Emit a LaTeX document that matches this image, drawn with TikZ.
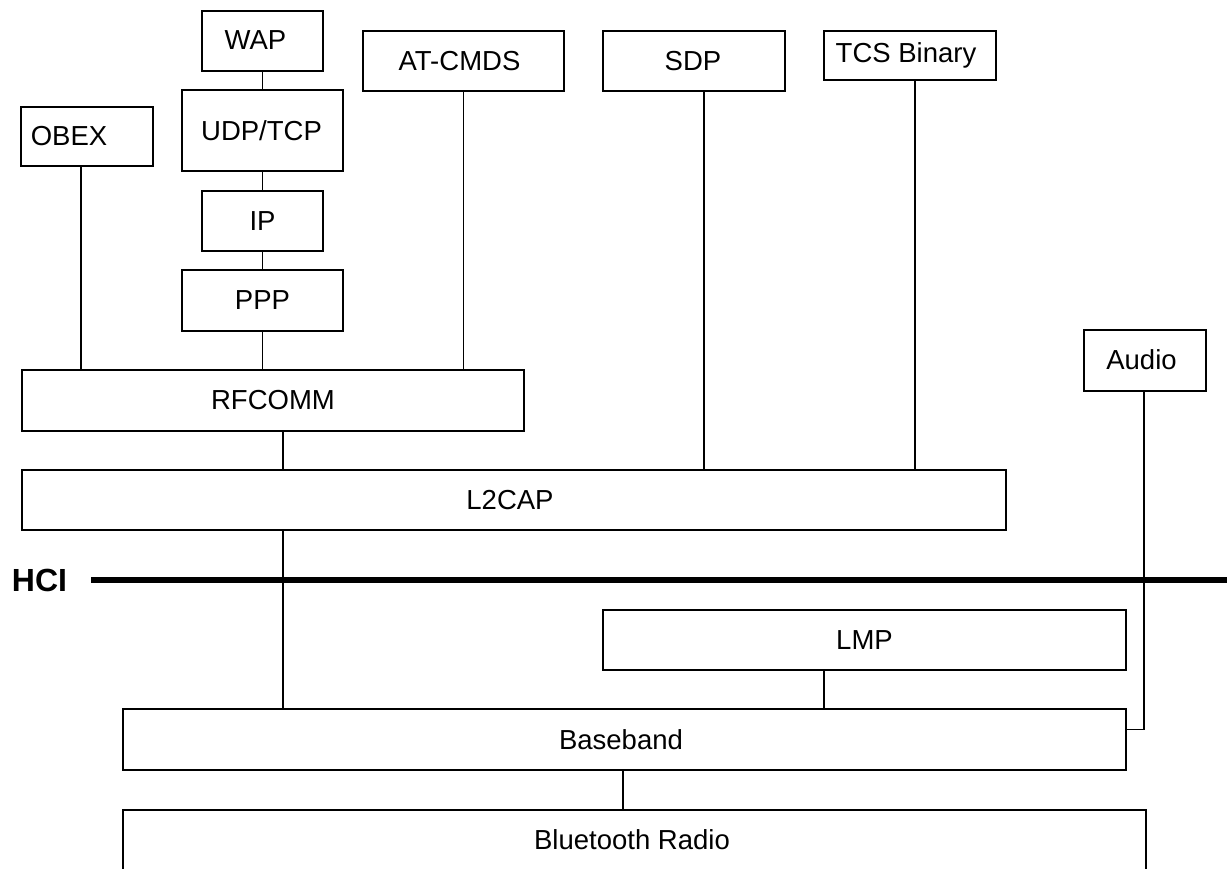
\documentclass[tikz,border=0pt]{standalone}
\usepackage{fontspec}
\setmainfont{Liberation Sans}
\begin{document}
\begin{tikzpicture}[x=1pt,y=-1pt,
  box/.style={draw,line width=1.4pt,inner sep=0pt,
    font=\fontsize{27.5}{32}\selectfont},
  link/.style={line width=1.3pt},
  hciline/.style={line width=6.5pt}]
\useasboundingbox (0,0) rectangle (1227,869);
\clip (0,0) rectangle (1227,869);
% upper stack
\node[box,minimum width=121pt,minimum height=60pt] (wap) at (262.5,41) {\raisebox{1.5pt}{WAP}\kern14pt};
\node[box,minimum width=161pt,minimum height=81pt] (udp) at (262.5,130.5) {UDP/TCP\kern2pt};
\node[box,minimum width=121pt,minimum height=60pt] (ip) at (262.5,221) {IP};
\node[box,minimum width=161pt,minimum height=61pt] (ppp) at (262.5,300.5) {PPP};
\node[box,minimum width=132pt,minimum height=59pt] (obex) at (87,136.5) {OBEX\kern36pt};
\node[box,minimum width=201pt,minimum height=60pt] (at) at (463.5,61) {AT-CMDS\kern8pt};
\node[box,minimum width=182pt,minimum height=60pt] (sdp) at (694,61) {SDP\kern2pt};
\node[box,minimum width=172pt,minimum height=49pt] (tcs) at (910,55.5) {TCS Binary\kern8pt};
\node[box,minimum width=122pt,minimum height=61pt] (audio) at (1145,360.5) {\raisebox{1.5pt}{Audio}\kern7pt};
\node[box,minimum width=502pt,minimum height=61pt] (rfcomm) at (273,400.5) {RFCOMM};
\node[box,minimum width=984pt,minimum height=60pt] (l2cap) at (514,500) {L2CAP\kern8pt};
\node[box,minimum width=523pt,minimum height=60pt] (lmp) at (864.5,640) {LMP};
\node[box,minimum width=1003pt,minimum height=61pt] (baseband) at (624.5,739.5) {Baseband\kern7pt};
\node[box,minimum width=1023pt,minimum height=62pt] (radio) at (634.5,841) {\raisebox{2pt}{Bluetooth Radio}\kern5pt};
% HCI
\node[font=\bfseries\fontsize{32}{36}\selectfont,inner sep=0pt] (hci) at (39.5,580) {HCI};
\coordinate (hciL) at (91,580);
\coordinate (hciR) at (1227,580);
\draw[hciline] (hciL) -- (hciR);
% connectors
\draw[link] (wap.south) -- (udp.north);
\draw[link] (udp.south) -- (ip.north);
\draw[link] (ip.south) -- (ppp.north);
\draw[link] (ppp.south) -- (ppp.south |- rfcomm.north);
\draw[link] (81,0 |- obex.south) -- (81,0 |- rfcomm.north);
\draw[link] (at.south) -- (at.south |- rfcomm.north);
\draw[link] (704,0 |- sdp.south) -- (704,0 |- l2cap.north);
\draw[link] (915,0 |- tcs.south) -- (915,0 |- l2cap.north);
\draw[link] (283,0 |- rfcomm.south) -- (283,0 |- l2cap.north);
\draw[link] (283,0 |- l2cap.south) -- (283,0 |- baseband.north);
\draw[link] (824,0 |- lmp.south) -- (824,0 |- baseband.north);
\draw[link] (623,0 |- baseband.south) -- (623,0 |- radio.north);
\draw[link] (1144,0 |- audio.south) |- ([yshift=10pt]baseband.east);
\end{tikzpicture}
\end{document}
